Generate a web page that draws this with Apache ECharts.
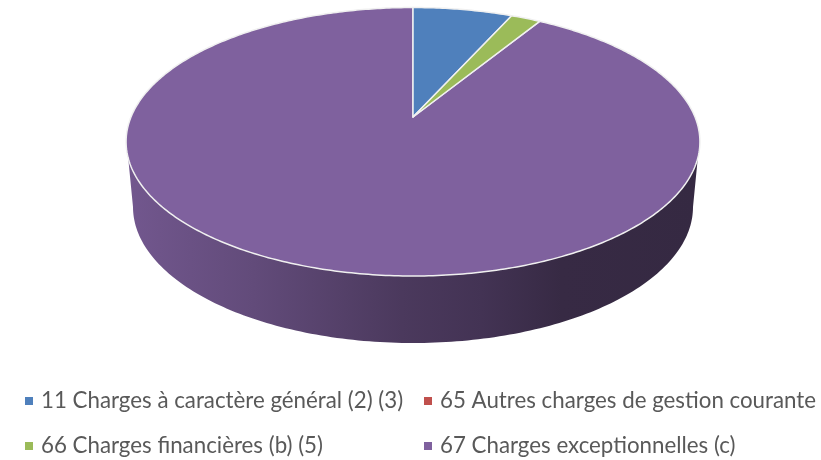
<!DOCTYPE html>
<html><head><meta charset="utf-8">
<style>html,body{margin:0;padding:0;background:#fff}#c{width:821px;height:460px}</style>
<script src="https://cdn.jsdelivr.net/npm/echarts@6/dist/echarts.min.js"></script>
</head><body><div id="c"></div>
<script>
const categories = ['11 Charges à caractère général (2) (3)','65 Autres charges de gestion courante','66 Charges financières (b) (5)','67 Charges exceptionnelles (c)'];
const values = [6.7, 0, 2.0, 91.3];
const colors = ['#4f80bc','#c0504d','#9bbb59','#7f619e'];
const wallShades = [[0,0.9],[0.22,0.77],[0.48,0.59],[0.62,0.53],[0.76,0.43],[1,0.42]];

const total = values.reduce((a,b)=>a+b,0);
// perspective view of the disc
const cx=413, apexY=117, kx=282, pa=-108.1, pc=0.1844;
function project(t){
  const u=Math.sin(t), v=Math.cos(t), w=1+pc*v;
  return [cx+kx*u/w, (pa*v+apexY)/w];
}
const base={cy:207, rx:280, ry:136};
function shade(hex,f){
  const n=parseInt(hex.slice(1),16);
  const c=[n>>16,(n>>8)&255,n&255].map(x=>Math.round(x*f));
  return `rgb(${c.join(',')})`;
}
const frontFrom=107.4*Math.PI/180, frontTo=252.6*Math.PI/180;

function renderSlice(idx){
  return function(params,api){
    const val=api.value(0);
    if(!val) return {type:'group',children:[]};
    let before=0; for(let i=0;i<idx;i++) before+=values[i];
    const a0=before/total*2*Math.PI, a1=(before+val)/total*2*Math.PI;
    const children=[];
    const f0=Math.max(a0,frontFrom), f1=Math.min(a1,frontTo);
    if(f1>f0){
      const pts=[];
      const N=160;
      for(let i=0;i<=N;i++) pts.push(project(f0+(f1-f0)*i/N));
      for(let i=0;i<=N;i++){
        const t=f1+(f0-f1)*i/N;
        const phi=Math.PI/2+(t-frontFrom)/(frontTo-frontFrom)*Math.PI;
        pts.push([cx+base.rx*Math.sin(phi), base.cy-base.ry*Math.cos(phi)]);
      }
      children.push({type:'polygon',shape:{points:pts},style:{
        fill:new echarts.graphic.LinearGradient(0,0,1,0,wallShades.map(s=>({offset:s[0],color:shade(colors[idx],s[1])}))),
        stroke:null}});
    }
    const top=[[cx,apexY]];
    const n=Math.max(4,Math.ceil((a1-a0)*80));
    for(let i=0;i<=n;i++) top.push(project(a0+(a1-a0)*i/n));
    children.push({type:'polygon',shape:{points:top},style:{fill:colors[idx],stroke:'#f0f0f0',lineWidth:1.5,lineJoin:'round'}});
    return {type:'group',children};
  };
}

const legendText={color:'#595959',fontSize:22.3,lineHeight:24,fontFamily:'Lato',padding:[0,0,0,3]};
const common={orient:'vertical',itemWidth:8,itemHeight:8,itemGap:21,icon:'rect',selectedMode:false,textStyle:legendText,padding:0};
const order=[3,0,2,1];
const chart=echarts.init(document.getElementById('c'),null,{renderer:'canvas'});
chart.setOption({
  animation:false,
  legend:[
    Object.assign({},common,{left:25,top:389,data:[categories[0],categories[2]]}),
    Object.assign({},common,{left:424,top:389,data:[categories[1],categories[3]]})
  ],
  series:order.map(i=>({
    type:'custom',name:categories[i],coordinateSystem:'none',silent:true,
    itemStyle:{color:colors[i]},
    data:[[values[i]]],
    renderItem:renderSlice(i)
  }))
});
</script></body></html>
